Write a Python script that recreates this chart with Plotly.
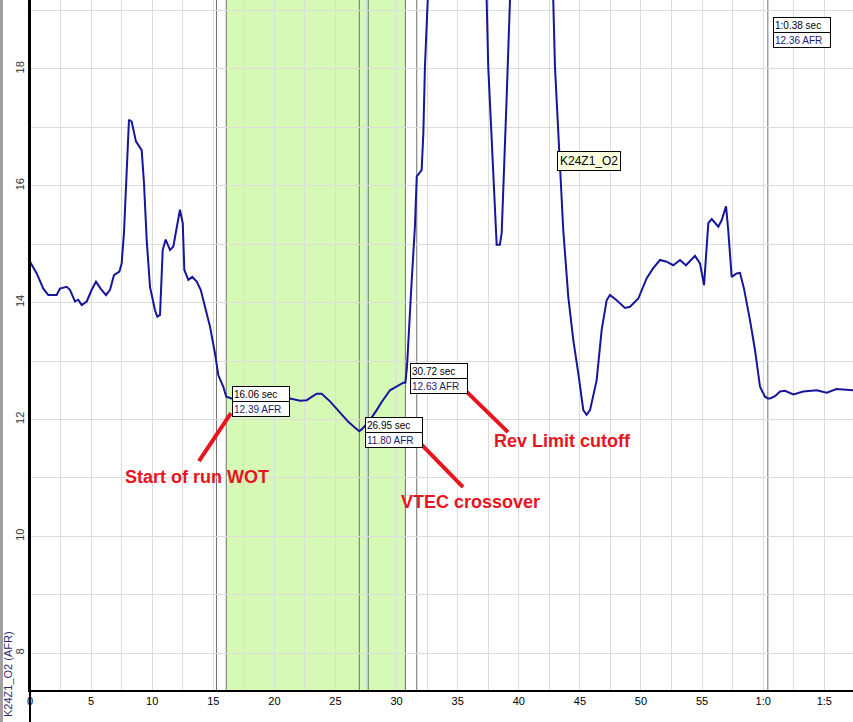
import plotly.graph_objects as go

# ---- data ----
time_s = [0.0, 0.55, 1.09, 1.5, 2.18, 2.45, 3.0, 3.27, 3.68, 3.95, 4.23, 4.64, 5.05, 5.4, 5.78,
          6.22, 6.55, 6.87, 7.31, 7.5, 7.69, 7.91, 8.1, 8.32, 8.67, 9.14, 9.33, 9.55, 9.82, 10.23,
          10.42, 10.64, 10.86, 11.1, 11.46, 11.73, 12.0, 12.27, 12.5, 12.63, 12.96, 13.28, 13.64,
          13.97, 14.32, 14.73, 15.14, 15.41, 15.82, 16.06, 16.5, 17.5, 18.5, 19.5, 20.5, 21.28,
          22.1, 22.64, 23.46, 23.87, 24.55, 25.37, 26.05, 26.6, 26.95, 27.14, 27.82, 28.37, 28.78,
          29.46, 30.0, 30.55, 30.72, 30.85, 31.24, 31.5, 31.65, 32.05, 32.19, 32.32, 32.55, 33.2,
          34.5, 36.0, 36.9, 37.37, 37.5, 37.78, 38.05, 38.19, 38.45, 38.6, 39.0, 39.28, 40.0, 41.2,
          42.2, 42.82, 42.96, 43.23, 43.45, 43.64, 44.05, 44.46, 44.87, 45.28, 45.55, 45.83, 46.37,
          46.78, 47.19, 47.46, 48.01, 48.69, 49.1, 49.78, 50.47, 51.0, 51.56, 52.1, 52.64, 53.19,
          53.68, 54.42, 54.83, 55.16, 55.51, 55.79, 56.33, 56.6, 56.96, 57.14, 57.42, 57.83, 58.1,
          58.43, 58.92, 59.33, 59.74, 60.15, 60.38, 60.56, 60.97, 61.38, 61.78, 62.47, 63.28, 64.38,
          65.2, 66.0, 67.35]
afr = [14.70, 14.50, 14.24, 14.13, 14.13, 14.24, 14.27, 14.22, 14.02, 14.05, 13.96, 14.02, 14.22,
       14.36, 14.24, 14.13, 14.22, 14.47, 14.53, 14.67, 15.19, 16.33, 17.13, 17.10, 16.76, 16.61,
       16.04, 15.07, 14.27, 13.87, 13.76, 13.79, 14.90, 15.08, 14.90, 14.96, 15.30, 15.59, 15.36,
       14.56, 14.39, 14.44, 14.36, 14.22, 13.93, 13.59, 13.13, 12.76, 12.56, 12.39, 12.36, 12.37,
       12.34, 12.36, 12.35, 12.36, 12.32, 12.33, 12.44, 12.44, 12.31, 12.11, 11.96, 11.86, 11.80,
       11.83, 11.99, 12.16, 12.30, 12.50, 12.56, 12.63, 12.63, 12.90, 14.39, 15.30, 16.16, 16.27,
       16.90, 18.04, 19.18, 20.5, 21.3, 21.0, 20.0, 19.18, 18.04, 16.90, 15.76, 14.99, 14.99, 15.19,
       17.47, 19.18, 20.6, 21.2, 20.3, 19.18, 18.04, 16.90, 16.10, 15.24, 14.10, 13.36, 12.79,
       12.16, 12.08, 12.16, 12.67, 13.53, 14.04, 14.13, 14.04, 13.91, 13.93, 14.07, 14.42, 14.59,
       14.73, 14.70, 14.64, 14.73, 14.64, 14.80, 14.67, 14.30, 15.36, 15.43, 15.30, 15.41, 15.65,
       15.24, 14.44, 14.50, 14.51, 14.24, 13.70, 13.19, 12.56, 12.39, 12.36, 12.36, 12.40, 12.48,
       12.49, 12.43, 12.48, 12.50, 12.46, 12.52, 12.50]

cursor_times = [16.06, 26.95, 30.72, 60.38]
cursor_afr = [12.39, 11.80, 12.63, 12.36]
extra_marker_times = [15.26, 27.68, 31.65]
shade_start, shade_end = 16.06, 30.72

x_tickvals = [0, 5, 10, 15, 20, 25, 30, 35, 40, 45, 50, 55, 60, 65]
x_ticktext = ["0", "5", "10", "15", "20", "25", "30", "35", "40", "45", "50", "55", "1:0", "1:5"]
y_tickvals = [8, 10, 12, 14, 16, 18]

series_name = "K24Z1_O2"
axis_title = "K24Z1_O2 (AFR)"
callouts = ["Start of run WOT", "VTEC crossover", "Rev Limit cutoff"]

# ---- styles ----
FONT = "Liberation Sans, Arial, sans-serif"
RED = "#e8141e"
LINE = "#16169a"
GRID = "#dcdcdc"
CURSOR = "#707070"

fig = go.Figure()
fig.add_trace(go.Scatter(x=time_s, y=afr, mode="lines", line=dict(color=LINE, width=2),
                         showlegend=False, hoverinfo="skip"))

shapes = []
shapes.append(dict(type="rect", xref="x", yref="paper", x0=shade_start, x1=shade_end, y0=0, y1=1,
                   fillcolor="#d6f9b6", line=dict(width=0), layer="below"))
for t in cursor_times + extra_marker_times:
    shapes.append(dict(type="line", xref="x", yref="paper", x0=t, x1=t, y0=0, y1=1,
                       line=dict(color=CURSOR, width=1), layer="below"))
# left strip & extended axis line
shapes.append(dict(type="rect", xref="paper", yref="paper", x0=-30 / 823, x1=-27 / 823,
                   y0=-32 / 690, y1=1, fillcolor="#a0a0a0", line=dict(width=0)))
shapes.append(dict(type="line", xref="paper", yref="paper", x0=0, x1=0, y0=-32 / 690, y1=1,
                   line=dict(color="black", width=2)))

# red callout lines (pixel offsets from the cursor points)
red_offsets = [(4.7, -16.4, -27.3, -64.4), (62.7, -14, 103.7, -56), (61.6, -9.4, 102.6, -49.4)]
for (t, a), (dx0, dy0, dx1, dy1) in zip(zip(cursor_times[:3], cursor_afr[:3]), red_offsets):
    shapes.append(dict(type="line", xref="x", yref="y", xsizemode="pixel", ysizemode="pixel",
                       xanchor=t, yanchor=a, x0=dx0, y0=dy0, x1=dx1, y1=dy1,
                       line=dict(color=RED, width=4)))

annotations = []


def fmt_time(t):
    if t >= 60:
        return f"{int(t // 60)}:{t % 60:.2f} sec"
    return f"{t:.2f} sec"


def cursor_box(t, a, dx, dy_top, yref="y"):
    for i, txt in enumerate([fmt_time(t), f"{a:.2f} AFR"]):
        annotations.append(dict(
            x=t, y=a if yref == "y" else dy_top, xref="x", yref=yref,
            xanchor="left", yanchor="top", xshift=dx,
            yshift=(dy_top - 15 * i) if yref == "y" else -15 * i,
            text=txt, showarrow=False, align="left", width=54, height=12,
            bgcolor="white", bordercolor="black", borderwidth=1, borderpad=1,
            font=dict(family=FONT, size=10, color="black" if i == 0 else "#1a1a70")))


cursor_box(cursor_times[0], cursor_afr[0], 6, 10.6)
cursor_box(cursor_times[1], cursor_afr[1], 6, 14)
cursor_box(cursor_times[2], cursor_afr[2], 5, 19.6)
cursor_box(cursor_times[3], cursor_afr[3], 5, 1 - 17 / 690, yref="paper")

# red callout texts
text_offsets = [(-29.3, -80), (110.7, -70.7), (157.6, -58.4)]
for (t, a), txt, (dx, dy) in zip(zip(cursor_times[:3], cursor_afr[:3]), callouts, text_offsets):
    annotations.append(dict(x=t, y=a, xref="x", yref="y", xshift=dx, yshift=dy, text=f"<b>{txt}</b>",
                            showarrow=False, xanchor="center", yanchor="middle",
                            font=dict(family=FONT, size=18, color=RED)))

# series label
annotations.append(dict(x=43.1, y=16.6, xref="x", yref="y", xanchor="left", yanchor="top",
                        text=series_name, showarrow=False, bgcolor="#ffffe1", bordercolor="black",
                        borderwidth=1, borderpad=2, font=dict(family=FONT, size=12, color="black")))

# axis title
annotations.append(dict(x=-22 / 823, y=16 / 690, xref="paper", yref="paper", xanchor="center",
                        yanchor="middle", text=axis_title, textangle=-90, showarrow=False,
                        font=dict(family=FONT, size=11, color="#2b2b6b")))

fig.update_layout(
    width=853, height=722, margin=dict(l=30, r=0, t=0, b=32, autoexpand=False),
    paper_bgcolor="white", plot_bgcolor="white",
    shapes=shapes, annotations=annotations, showlegend=False,
    xaxis=dict(range=[0, 67.35], tickmode="array", tickvals=x_tickvals, ticktext=x_ticktext,
               showgrid=True, gridcolor=GRID, gridwidth=1, zeroline=False, automargin=False,
               showline=True, linecolor="black", linewidth=2, ticks="",
               tickfont=dict(family=FONT, size=11, color="black"),
               minor=dict(dtick=2.5, tick0=0, showgrid=True, gridcolor=GRID, gridwidth=1)),
    yaxis=dict(range=[7.37, 19.18], tickmode="array", tickvals=y_tickvals, tickangle=-90,
               showgrid=True, gridcolor=GRID, gridwidth=1, zeroline=False, automargin=False,
               showline=True, linecolor="black", linewidth=2, ticks="",
               tickfont=dict(family=FONT, size=11, color="#333333"),
               minor=dict(dtick=1, tick0=0, showgrid=True, gridcolor=GRID, gridwidth=1)),
)

fig.write_html("out.html", config={"displayModeBar": False},
               post_script="document.body.style.margin='0';")
